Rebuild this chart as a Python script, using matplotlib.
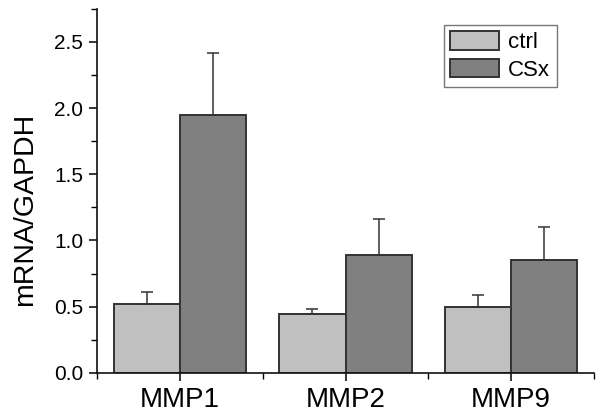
import matplotlib
matplotlib.use("Agg")
from matplotlib import pyplot as plt
from matplotlib.ticker import MultipleLocator, FixedLocator
import numpy as np

plt.rcParams['font.family'] = ['Liberation Sans', 'DejaVu Sans']

genes = ['MMP1', 'MMP2', 'MMP9']
ctrl = [0.52, 0.448, 0.50]
ctrl_err = [0.09, 0.033, 0.087]
csx = [1.95, 0.893, 0.853]
csx_err = [0.465, 0.268, 0.247]

fig = plt.figure(figsize=(6.0, 4.18), dpi=100)
ax = fig.add_axes([0.162, 0.108, 0.828, 0.871])

x = np.arange(1, len(genes) + 1)
w = 0.4
edge = '#333333'
ekw = dict(ecolor=edge, elinewidth=1.1, capsize=4, capthick=1.1)

ax.bar(x - w / 2, ctrl, w, color='#c0c0c0', edgecolor=edge, linewidth=1.4,
       yerr=[np.zeros(3), ctrl_err], error_kw=ekw, label='ctrl', zorder=2)
ax.bar(x + w / 2, csx, w, color='#808080', edgecolor=edge, linewidth=1.4,
       yerr=[np.zeros(3), csx_err], error_kw=ekw, label='CSx', zorder=2)

ax.set_xlim(0.5, 3.5)
ax.set_ylim(0, 2.75)
ax.set_xticks(x)
ax.set_xticklabels(genes, fontsize=20)
ax.xaxis.set_minor_locator(FixedLocator([0.5, 1.5, 2.5, 3.5]))
ax.yaxis.set_major_locator(MultipleLocator(0.5))
ax.yaxis.set_minor_locator(MultipleLocator(0.25))
ax.yaxis.set_major_formatter(plt.FormatStrFormatter('%.1f'))

for s in ['top', 'right']:
    ax.spines[s].set_visible(False)
for s in ['left', 'bottom']:
    ax.spines[s].set_linewidth(1.2)
    ax.spines[s].set_color('#111111')

ax.tick_params(axis='y', which='major', length=6, width=1.1, labelsize=15, pad=4)
ax.tick_params(axis='y', which='minor', length=4, width=1.0)
ax.tick_params(axis='x', which='major', length=6, width=1.1, pad=4)
ax.tick_params(axis='x', which='minor', length=4, width=1.0)

ax.set_ylabel('mRNA/GAPDH', fontsize=20.5)
ax.yaxis.set_label_coords(-0.12, 0.45)

leg = ax.legend(loc='upper right', bbox_to_anchor=(0.925, 0.956), fontsize=16,
                frameon=True, fancybox=False, handlelength=2.2, handleheight=0.9,
                labelspacing=0.25, handletextpad=0.4, borderpad=0.3,
                borderaxespad=0)
leg.get_frame().set_edgecolor('#555555')
leg.get_frame().set_linewidth(1.0)

fig.savefig('out.png', dpi=100)
